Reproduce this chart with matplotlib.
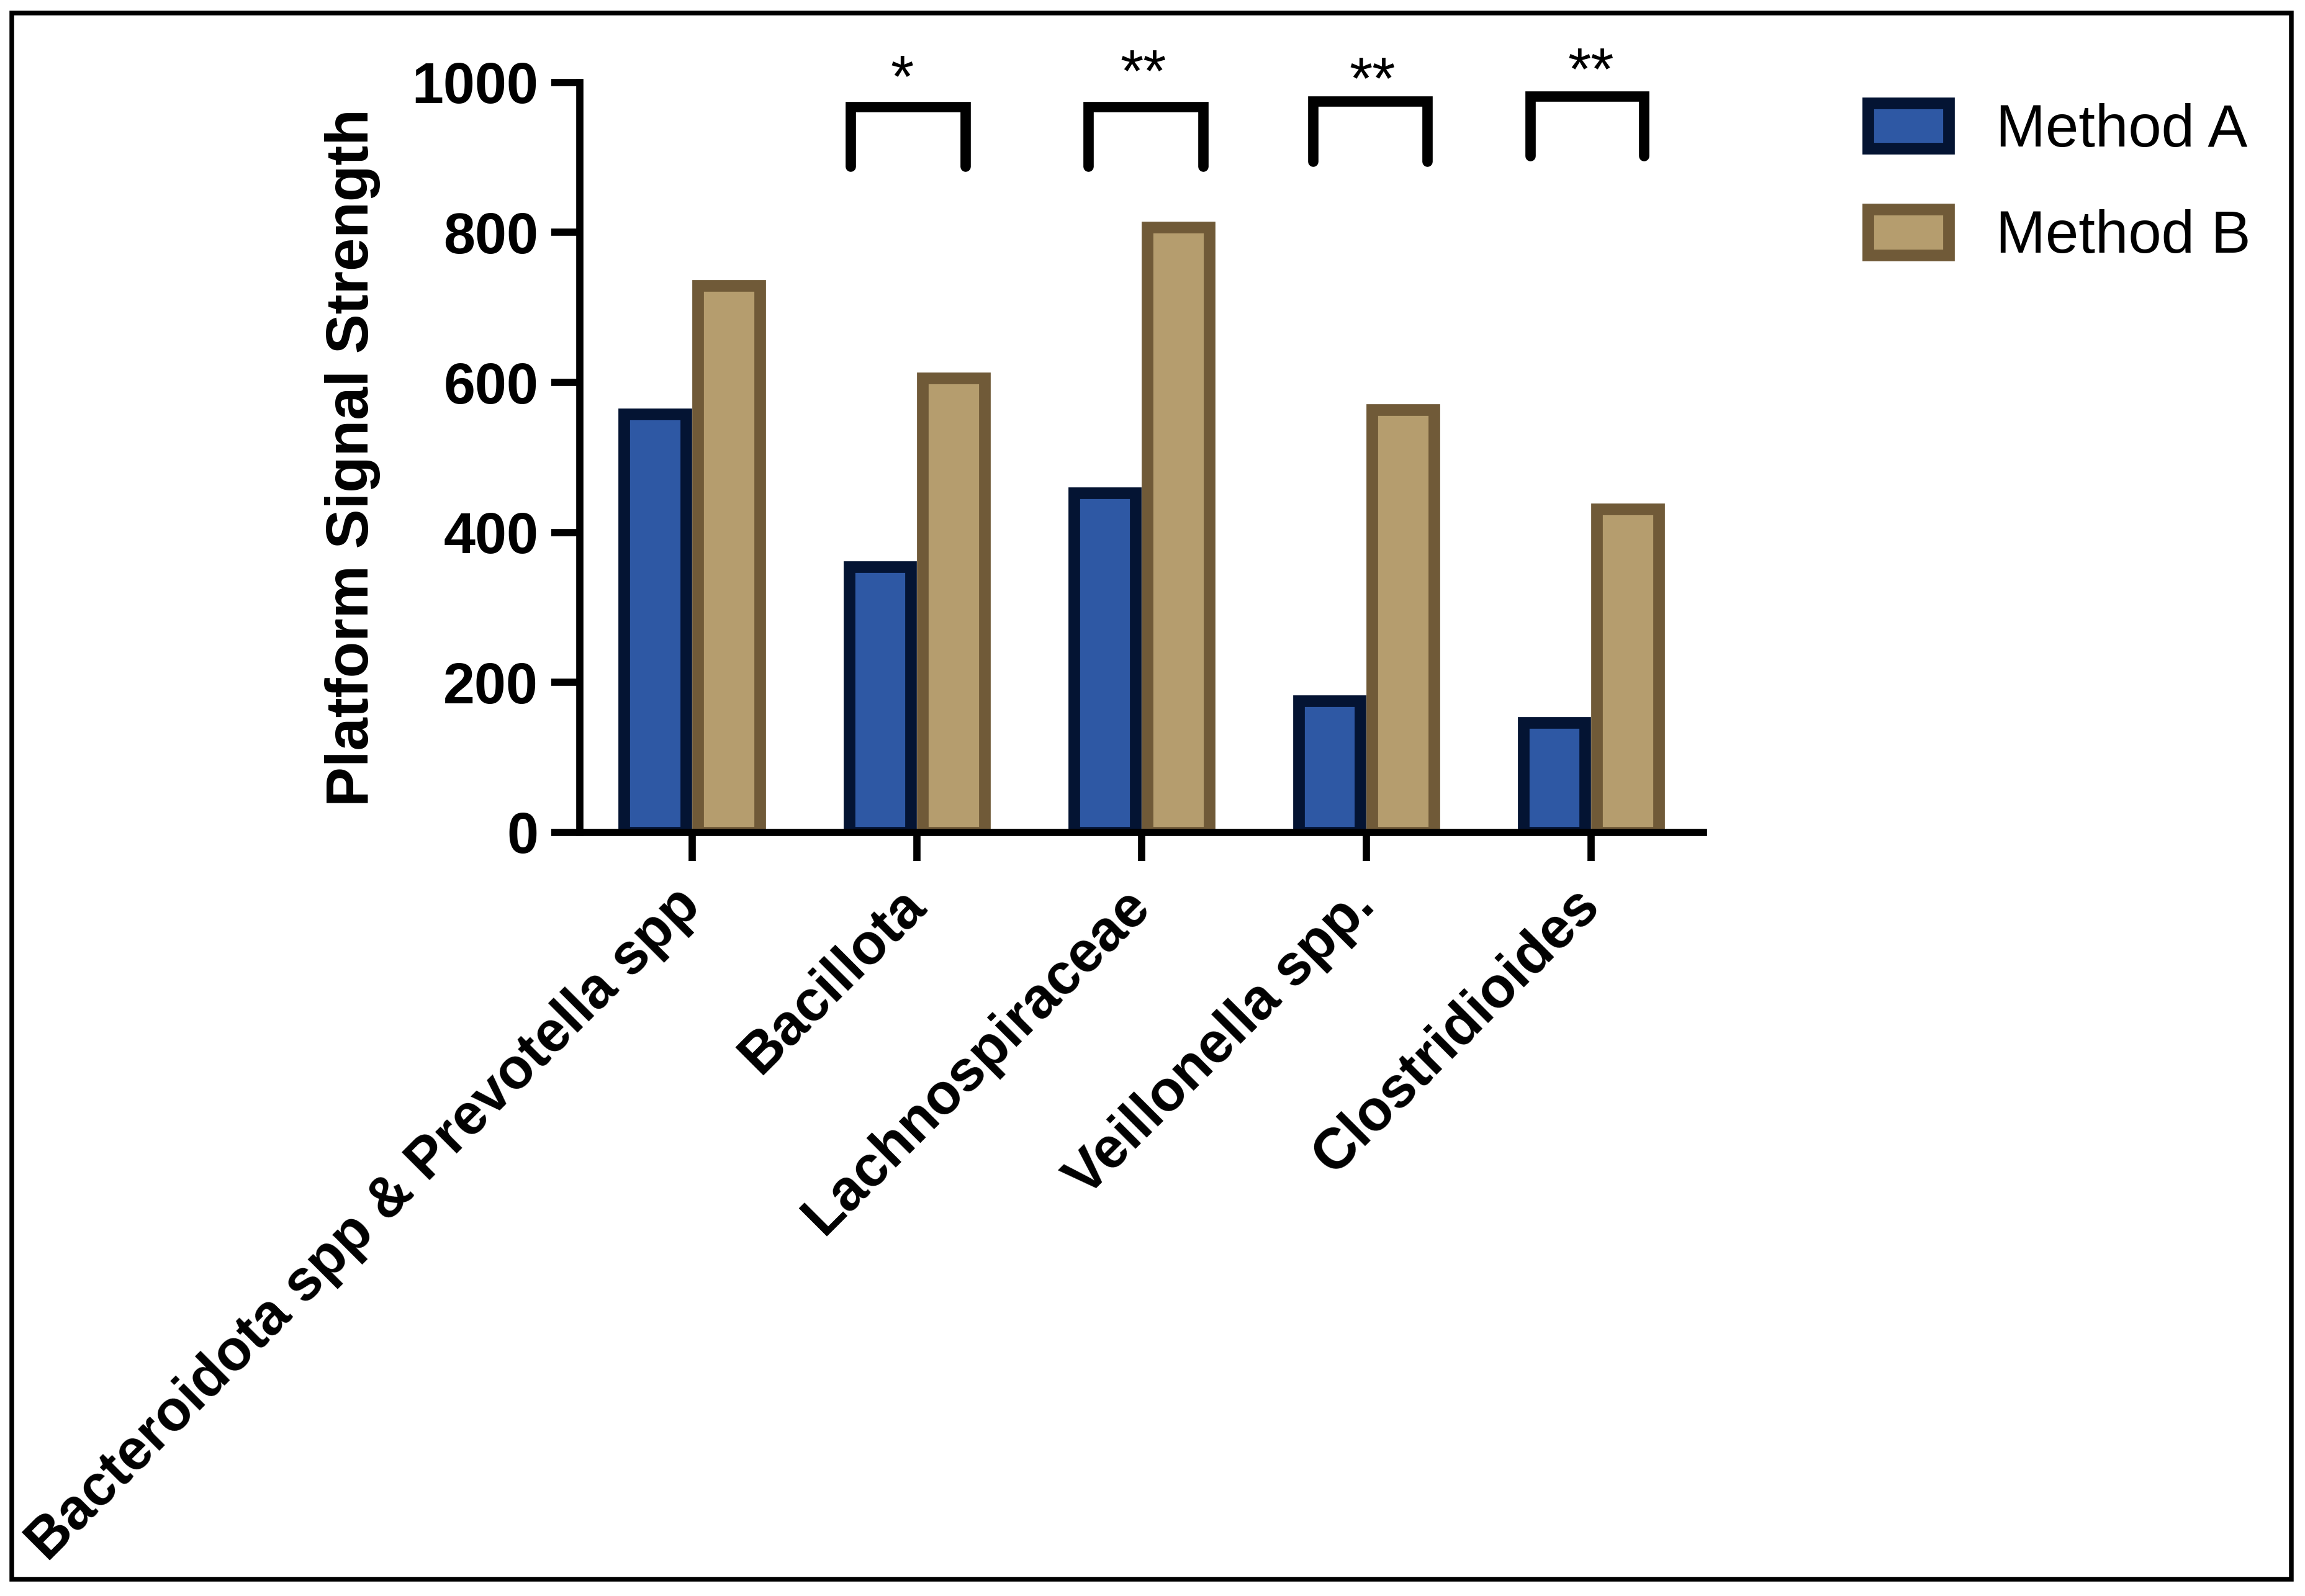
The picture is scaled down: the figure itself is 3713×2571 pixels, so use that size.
import numpy as np
import matplotlib
matplotlib.use("Agg")
import matplotlib.pyplot as plt
from matplotlib.patches import Rectangle, Patch

plt.rcParams['font.family'] = ['Liberation Sans', 'DejaVu Sans']

# Data
categories = ["Bacteroidota spp & Prevotella spp", "Bacillota", "Lachnospiraceae",
              "Veillonella spp.", "Clostridioides"]
method_a = [558, 354, 453, 175, 146]
method_b = [729, 606, 807, 564, 431]
series_names = ["Method A", "Method B"]

# significance brackets (group index, label, top, leg bottom)
sig_groups = [1, 2, 3, 4]
sig_labels = ["*", "**", "**", "**"]
sig_top = [968, 968, 975, 982]
sig_bottom = [888, 888, 895, 902]
sig_left = [-0.295, -0.236, -0.236, -0.27]
sig_right = [0.216, 0.275, 0.27, 0.236]
sig_text_dx = [-0.065, 0.007, 0.026, 0.0]
sig_text_y = [1002, 1010, 1000, 1012]

fill_a, edge_a = "#2E58A4", "#041433"
fill_b, edge_b = "#B59D6E", "#705A38"

fig = plt.figure(figsize=(3713 / 300, 2571 / 300), dpi=300)
ax = fig.add_axes([0.2515, 0.4785, 0.7390 - 0.2515, 0.9483 - 0.4785])

x = np.arange(len(categories))
w = 0.276
ax.bar(x - 0.164, method_a, width=w, color=fill_a, edgecolor=edge_a, linewidth=4.5, zorder=2)
ax.bar(x + 0.164, method_b, width=w, color=fill_b, edgecolor=edge_b, linewidth=4.5, zorder=2)

ax.set_xlim(-0.5, 4.5)
ax.set_ylim(0, 1000)
ax.set_yticks([0, 200, 400, 600, 800, 1000])
ax.set_xticks(x)
ax.set_xticklabels(categories, rotation=45, ha='right', va='center',
                   rotation_mode='anchor', fontsize=22, fontweight='bold')
ax.tick_params(axis='y', labelsize=22, width=2.8, length=11, pad=5)
ax.tick_params(axis='x', width=2.8, length=11, pad=14)
for lab in ax.get_yticklabels():
    lab.set_fontweight('bold')
ax.set_ylabel("Platform Signal Strength", fontsize=23, fontweight='bold', labelpad=12)

for s in ['top', 'right']:
    ax.spines[s].set_visible(False)
for s in ['left', 'bottom']:
    ax.spines[s].set_linewidth(2.8)

# brackets and stars
for g, lab, yt, yb, l, r, dx, ty in zip(sig_groups, sig_labels, sig_top, sig_bottom,
                                         sig_left, sig_right, sig_text_dx, sig_text_y):
    ax.plot([g + l, g + l, g + r, g + r], [yb, yt, yt, yb], color='black', lw=4,
            solid_capstyle='round', solid_joinstyle='miter', clip_on=False, zorder=3)
    ax.text(g + dx, ty, lab, ha='center', va='center', fontsize=23, clip_on=False)

handles = [Patch(facecolor=fill_a, edgecolor=edge_a, linewidth=4.5),
           Patch(facecolor=fill_b, edgecolor=edge_b, linewidth=4.5)]
fig.legend(handles, series_names, loc='upper left', bbox_to_anchor=(0.8105, 0.9355),
           frameon=False, fontsize=23, handlelength=1.35, handleheight=0.8,
           handletextpad=0.8, labelspacing=0.85, borderpad=0, borderaxespad=0)

# outer frame
fig.patches.append(Rectangle((0.0051, 0.0105), 0.9941 - 0.0051, 0.9918 - 0.0105,
                             transform=fig.transFigure, fill=False, edgecolor='black',
                             linewidth=1.8))

fig.savefig("out.png", dpi=300)
